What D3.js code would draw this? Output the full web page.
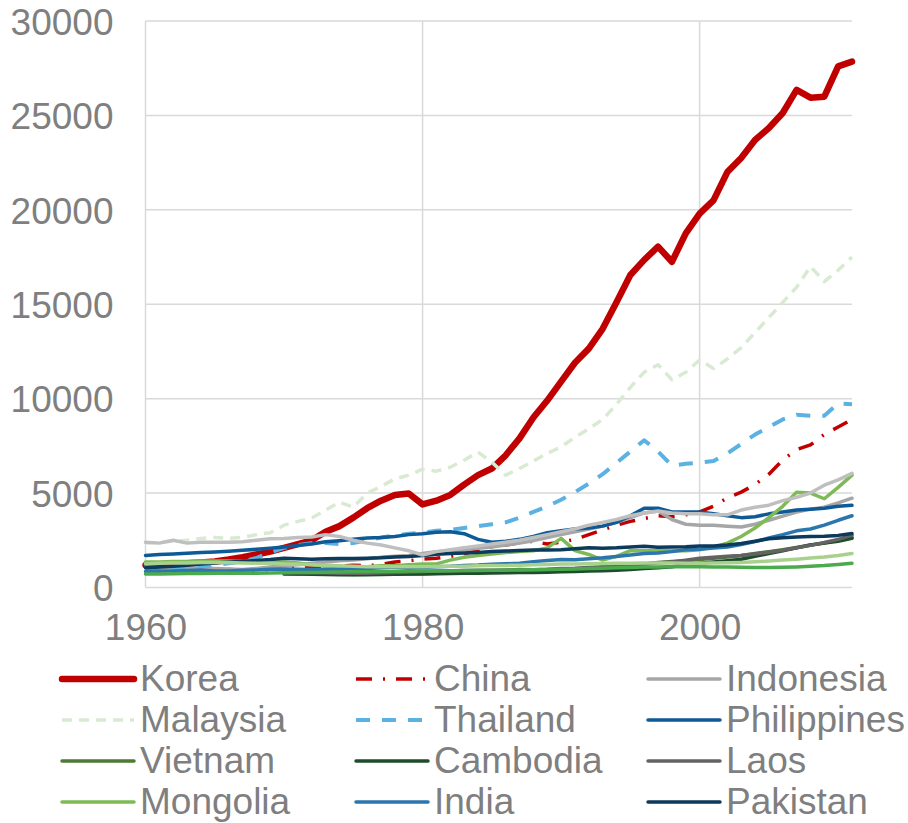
<!DOCTYPE html>
<html>
<head>
<meta charset="utf-8">
<script src="https://cdn.jsdelivr.net/npm/d3@7"></script>
<style>
  html, body { margin: 0; padding: 0; background: #fff; }
  svg text { font-family: Arial, "Liberation Sans", sans-serif; fill: #7f7f7f; }
</style>
</head>
<body>
<svg id="chart" width="908" height="823"></svg>
<script>
// Real GDP per capita, 1960-2011
const years = d3.range(1960, 2012);
const yTicks = [0, 5000, 10000, 15000, 20000, 25000, 30000];
const xTicks = [1960, 1980, 2000];
const N = null;

const korea = [1180,1210,1250,1290,1330,1380,1480,1600,1750,1900, 2100,2300,2500,2950,3250,3700,4200,4600,4900,4980, 4400,4600,4900,5450,5950,6300,7000,7900,9000,9900, 10900,11900,12650,13700,15100,16550,17350,18050,17250,18750, 19800,20500,22000,22750,23700,24330,25130,26350,25940,25990, 27600,27850];
const china = [950,800,780,820,880,920,950,920,900,960, 1050,1080,1080,1130,1130,1180,1150,1220,1350,1420, 1500,1550,1650,1780,1980,2150,2250,2380,2450,2300, 2400,2550,2800,3050,3300,3500,3650,3800,3750,3850, 4000,4300,4750,5050,5450,6000,6750,7300,7550,8100, 8500,8900];
const indonesia = [1050,1050,1060,1020,1030,1000,980,950,1010,1080, 1150,1200,1280,1350,1420,1450,1520,1600,1650,1700, 1800,1900,1950,2000,2080,2150,2250,2350,2480,2650, 2800,2950,3100,3250,3450,3700,3950,4050,3600,3350, 3300,3300,3250,3200,3350,3560,3780,4000,4150,4250, 4480,4730];
const malaysia = [2350,2400,2450,2500,2600,2650,2600,2650,2800,2900, 3300,3500,3670,4100,4520,4250,5000,5350,5750,5950, 6270,6160,6370,6740,7170,6640,5950,6300,6700,7100, 7450,7950,8400,8900,9700,10600,11400,11800,11000,11400, 12050,11600,12100,12700,13500,14300,15100,15900,17000,16200, 16800,17500];
const thailand = [950,980,1030,1080,1120,1180,1280,1380,1560,1850, 2100,2250,2350,2350,2300,2350,2500,2650,2750,2850, 2900,3000,3050,3150,3250,3350,3450,3700,4000,4300, 4650,5050,5500,6000,6600,7200,7800,7200,6450,6550, 6620,6700,7100,7600,8100,8500,8900,9150,9100,9100, 9750,9700];
const philippines = [1700,1750,1780,1820,1850,1880,1920,1970,2020,2080, 2150,2220,2300,2420,2480,2550,2620,2650,2700,2800, 2850,2920,2950,2850,2550,2400,2450,2550,2700,2900, 3000,3100,3150,3250,3450,3800,4200,4200,4000,4000, 4000,3900,3800,3700,3750,3900,4000,4100,4150,4200, 4300,4350];
const vietnam = [N,N,N,N,N,N,N,N,N,N, 700,700,710,720,700,690,700,720,730,720, 730,750,780,800,830,850,860,870,880,890, 900,950,1000,1050,1100,1180,1250,1320,1380,1420, 1480,1550,1620,1700,1800,1900,2000,2120,2250,2350, 2500,2650];
const cambodia = [N,N,N,N,N,N,N,N,N,N, 750,730,700,690,680,670,680,690,700,710, 720,730,740,750,760,770,780,790,800,810, 830,850,870,890,920,950,1000,1050,1100,1200, 1290,1350,1420,1500,1650,1800,1950,2100,2250,2350, 2450,2600];
const laos = [N,N,N,N,N,N,N,N,N,N, 800,800,790,780,760,750,760,780,800,820, 850,870,880,900,910,920,930,950,940,960, 1000,1020,1060,1100,1150,1200,1250,1300,1350,1450, 1550,1600,1650,1700,1780,1870,1970,2100,2230,2380, 2550,2770];
const mongolia = [1350,1350,1380,1380,1400,1400,1400,1380,1400,1380, 1350,1300,1200,1150,1100,1100,1100,1150,1150,1200, 1250,1250,1450,1600,1700,1780,1850,1900,1950,2100, 2600,1950,1750,1450,1650,1950,1950,1950,1950,1950, 2000,2150,2350,2700,3150,3700,4300,5050,5000,4700, 5300,5950];
const india = [850,870,880,900,930,880,870,920,930,960, 980,970,950,960,950,1000,1000,1050,1080,1020, 1060,1100,1120,1170,1190,1230,1260,1280,1370,1430, 1480,1470,1520,1570,1640,1720,1800,1830,1900,2000, 2030,2090,2140,2280,2430,2620,2800,3000,3100,3300, 3560,3800];
const pakistan = [1050,1080,1120,1180,1250,1300,1350,1380,1430,1480, 1550,1520,1500,1520,1530,1530,1550,1570,1620,1640, 1700,1760,1800,1830,1860,1900,1930,1960,1980,1990, 2000,2050,2100,2080,2100,2150,2180,2130,2140,2160, 2200,2200,2250,2330,2450,2580,2640,2680,2700,2720, 2760,2860];
// further series drawn in the plot whose legend entries fall below the frame
const extraGrey = [2400,2350,2500,2350,2400,2400,2400,2420,2500,2580, 2600,2650,2670,2800,2700,2500,2350,2250,2100,1950, 1720,1900,2000,2100,2200,2300,2400,2500,2650,2800, 2950,3100,3300,3450,3600,3800,3950,4050,3950,3900, 3900,3850,3850,4100,4250,4360,4600,4780,5000,5420, 5700,6040];
const extraLightGreen = [1250,1280,1300,1300,1320,1330,1320,1300,1290,1280, 1250,1230,1200,1180,1150,1120,1100,1100,1100,1100, 1100,1110,1120,1130,1150,1160,1170,1180,1200,1220, 1240,1250,1260,1270,1280,1290,1300,1300,1300,1290, 1290,1300,1310,1330,1360,1400,1450,1500,1560,1620, 1700,1800];
const extraGreen = [720,720,730,740,740,750,750,760,760,770, 780,790,800,810,820,830,840,850,860,870, 880,880,890,900,900,910,920,930,940,950, 960,980,1000,1020,1040,1060,1080,1090,1100,1100, 1100,1090,1080,1070,1060,1060,1070,1090,1120,1160, 1220,1290];

const series = [
  { name: "Korea",       values: korea,       color: "#c00000", width: 6.5, dash: null,            legend: true },
  { name: "China",       values: china,       color: "#c00000", width: 3.5, dash: "16,11,2,11",    legend: true },
  { name: "Indonesia",   values: indonesia,   color: "#a6a6a6", width: 3.5, dash: null,            legend: true },
  { name: "Malaysia",    values: malaysia,    color: "#d9ead3", width: 3.5, dash: "10,7",          legend: true },
  { name: "Thailand",    values: thailand,    color: "#5bb1e2", width: 4,   dash: "14,12",         legend: true },
  { name: "Philippines", values: philippines, color: "#0e5a96", width: 3.5, dash: null,            legend: true },
  { name: "Vietnam",     values: vietnam,     color: "#4e7a32", width: 3.5, dash: null,            legend: true },
  { name: "Cambodia",    values: cambodia,    color: "#1e4d2b", width: 3.5, dash: null,            legend: true },
  { name: "Laos",        values: laos,        color: "#636363", width: 3.5, dash: null,            legend: true },
  { name: "Mongolia",    values: mongolia,    color: "#7fba56", width: 3.5, dash: null,            legend: true },
  { name: "India",       values: india,       color: "#2b76ad", width: 3.5, dash: null,            legend: true },
  { name: "Pakistan",    values: pakistan,    color: "#0b3a5c", width: 3.5, dash: null,            legend: true },
  { name: "extraGrey",       values: extraGrey,       color: "#bfbfbf", width: 3.5, dash: null, legend: false },
  { name: "extraLightGreen", values: extraLightGreen, color: "#a9d18e", width: 3.5, dash: null, legend: false },
  { name: "extraGreen",      values: extraGreen,      color: "#4caa4e", width: 3.5, dash: null, legend: false }
];

const svg = d3.select("#chart");
const plot = { left: 145.5, right: 852, top: 21, bottom: 587.5 };

const x = d3.scaleLinear().domain([1960, 2011]).range([plot.left, plot.right]);
const y = d3.scaleLinear().domain([0, 30000]).range([plot.bottom, plot.top]);

// gridlines
const grid = svg.append("g").attr("stroke", "#d9d9d9").attr("stroke-width", 1.5);
grid.selectAll("line.h").data(yTicks).join("line")
  .attr("x1", plot.left).attr("x2", plot.right)
  .attr("y1", d => y(d)).attr("y2", d => y(d));
grid.selectAll("line.v").data(xTicks).join("line")
  .attr("x1", d => x(d)).attr("x2", d => x(d))
  .attr("y1", plot.top).attr("y2", plot.bottom);

// axes (labels only)
const yAxis = svg.append("g")
  .attr("transform", `translate(${plot.left - 32},0)`)
  .call(d3.axisLeft(y).tickValues(yTicks).tickSize(0).tickPadding(0).tickFormat(d3.format("d")));
yAxis.select(".domain").remove();
yAxis.selectAll("text").style("font-size", "37px").attr("fill", "#7f7f7f").attr("dy", "0.36em");

const xAxis = svg.append("g")
  .attr("transform", `translate(0,${plot.bottom + 26})`)
  .call(d3.axisBottom(x).tickValues(xTicks).tickSize(0).tickPadding(0).tickFormat(d3.format("d")));
xAxis.select(".domain").remove();
xAxis.selectAll("text").style("font-size", "37px").attr("fill", "#7f7f7f").attr("dy", "0.71em");

// lines
const line = d3.line()
  .defined(d => d.v != null)
  .x(d => x(d.year))
  .y(d => y(d.v));

svg.append("g").selectAll("path").data(series).join("path")
  .attr("fill", "none")
  .attr("stroke", d => d.color)
  .attr("stroke-width", d => d.width)
  .attr("stroke-linejoin", "round")
  .attr("stroke-linecap", d => d.dash ? "butt" : "round")
  .attr("stroke-dasharray", d => d.dash)
  .attr("d", d => line(years.map((yr, i) => ({ year: yr, v: d.values[i] }))));

// legend: three columns
const legendItems = series.filter(s => s.legend);
const colX = [62, 356, 648];
const rowY = [679, 720, 761, 802];
const lg = svg.append("g").selectAll("g").data(legendItems).join("g")
  .attr("transform", (d, i) => `translate(${colX[i % 3]},${rowY[Math.floor(i / 3)]})`);
lg.append("line")
  .attr("x1", 0).attr("x2", 72).attr("y1", 0).attr("y2", 0)
  .attr("stroke", d => d.color)
  .attr("stroke-width", d => d.width)
  .attr("stroke-linecap", d => d.dash ? "butt" : "round")
  .attr("stroke-dasharray", d => d.dash);
lg.append("text")
  .attr("x", 78).attr("y", 0).attr("dy", "0.32em")
  .style("font-size", "37px")
  .text(d => d.name);
</script>
</body>
</html>
